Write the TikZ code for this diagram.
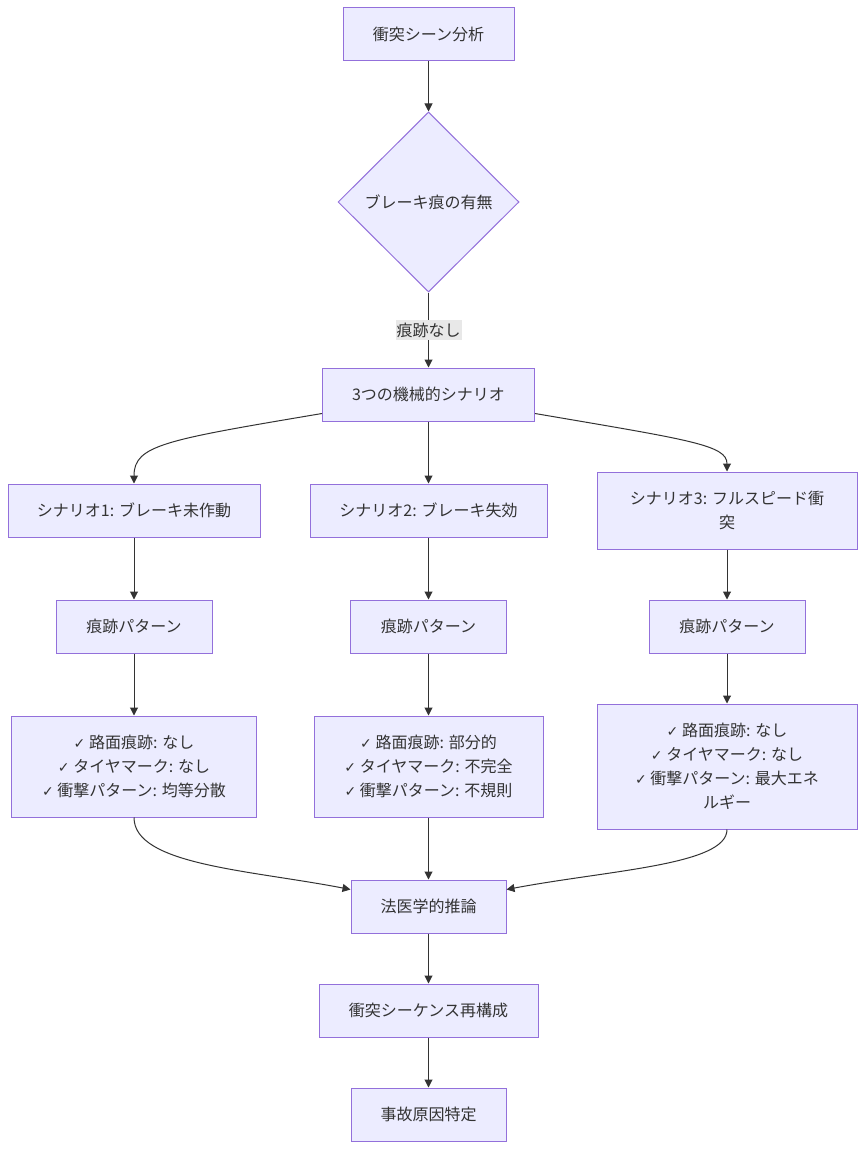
\documentclass[tikz,border=0pt]{standalone}
\usepackage{fontspec}
\setmainfont{Noto Sans CJK JP}
\newfontfamily\chkfont{DejaVu Sans}
\usetikzlibrary{shapes.geometric,arrows.meta}
\newcommand{\chk}{{\chkfont\fontsize{14}{24}\selectfont ✓}}
\definecolor{mfill}{HTML}{ECECFF}
\definecolor{mborder}{HTML}{9370DB}
\definecolor{mline}{HTML}{333333}
\definecolor{lblbg}{HTML}{E8E8E8}
\begin{document}
\begin{tikzpicture}[x=1pt,y=1pt,
  box/.style={draw=mborder, fill=mfill, line width=1pt, inner sep=0pt, align=center, text=mline, font=\fontsize{16}{24}\selectfont},
  dia/.style={box, shape=diamond},
  arr/.style={draw=mline, line width=1pt, -{Triangle[length=8pt,width=8pt]}},
  lbl/.style={fill=lblbg, inner xsep=1pt, inner ysep=3pt, text=mline, font=\fontsize{16}{18}\selectfont}]
\fill[white] (0,0) rectangle (865,-1150);
\useasboundingbox (0,0) rectangle (865,-1150);

\node[box, minimum width=171pt, minimum height=53pt] (A) at (428.5,-34.5) {衝突シーン分析};
\node[dia, minimum width=181pt, minimum height=180pt] (B) at (428.5,-202) {ブレーキ痕の有無};
\node[box, minimum width=212pt, minimum height=53pt] (C) at (428.5,-394.5) {3つの機械的シナリオ};

\node[box, minimum width=252pt, minimum height=53pt] (D1) at (134,-510.5) {シナリオ1: ブレーキ未作動};
\node[box, minimum width=237pt, minimum height=53pt] (D2) at (428.5,-510.5) {シナリオ2: ブレーキ失効};
\node[box, minimum width=260pt, minimum height=77pt] (D3) at (727,-510.5) {シナリオ3: フルスピード衝\\突};

\node[box, minimum width=156pt, minimum height=53pt] (E1) at (134,-626.5) {痕跡パターン};
\node[box, minimum width=156pt, minimum height=53pt] (E2) at (428.5,-626.5) {痕跡パターン};
\node[box, minimum width=156pt, minimum height=53pt] (E3) at (727,-626.5) {痕跡パターン};

\node[box, minimum width=245pt, minimum height=101pt] (F1) at (134,-766.5) {\chk\ 路面痕跡: なし\\\chk\ タイヤマーク: なし\\\chk\ 衝撃パターン: 均等分散};
\node[box, minimum width=229pt, minimum height=101pt] (F2) at (428.5,-766.5) {\chk\ 路面痕跡: 部分的\\\chk\ タイヤマーク: 不完全\\\chk\ 衝撃パターン: 不規則};
\node[box, minimum width=260pt, minimum height=125pt] (F3) at (727,-766.5) {\chk\ 路面痕跡: なし\\\chk\ タイヤマーク: なし\\\chk\ 衝撃パターン: 最大エネ\\ルギー};

\node[box, minimum width=155pt, minimum height=53pt] (G) at (428.5,-906.5) {法医学的推論};
\node[box, minimum width=219pt, minimum height=53pt] (H) at (428.5,-1010.5) {衝突シーケンス再構成};
\node[box, minimum width=155pt, minimum height=53pt] (I) at (428.5,-1114.5) {事故原因特定};

\draw[arr] (A) -- (B);
\draw[arr] (B) -- node[lbl]{痕跡なし} (C);
\draw[arr] ([yshift=8pt]C.south west) .. controls (165,-440) and (134,-445) .. (D1.north);
\draw[arr] (C) -- (D2);
\draw[arr] ([yshift=8pt]C.south east) .. controls (690,-440) and (727,-445) .. (D3.north);
\draw[arr] (D1) -- (E1);
\draw[arr] (D2) -- (E2);
\draw[arr] (D3) -- (E3);
\draw[arr] (E1) -- (F1);
\draw[arr] (E2) -- (F2);
\draw[arr] (E3) -- (F3);
\draw[arr] (F1.south) .. controls (134,-865) and (250,-870) .. ([yshift=-10pt]G.north west);
\draw[arr] (F2) -- (G);
\draw[arr] (F3.south) .. controls (727,-865) and (610,-870) .. ([yshift=-10pt]G.north east);
\draw[arr] (G) -- (H);
\draw[arr] (H) -- (I);
\end{tikzpicture}
\end{document}
